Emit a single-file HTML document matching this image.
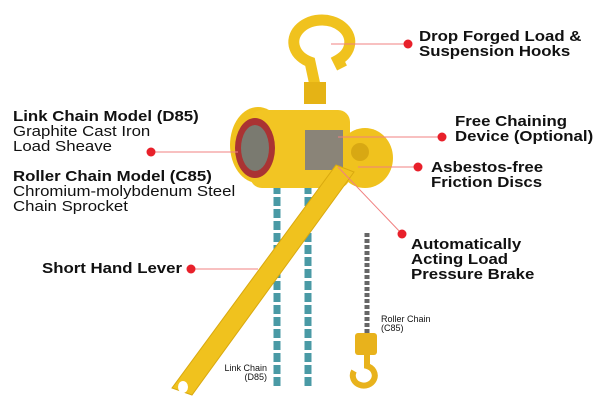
<!DOCTYPE html>
<html><head><meta charset="utf-8"><style>
body{margin:0;width:600px;height:417px;background:#fff;overflow:hidden;position:relative;font-family:"Liberation Sans",sans-serif}
.t{position:absolute;font-size:15px;line-height:15px;color:#111;transform:scaleX(1.12);transform-origin:0 0;white-space:nowrap}
.b{font-weight:bold}
.s{position:absolute;font-size:9px;line-height:9px;color:#111;white-space:nowrap}
svg{position:absolute;left:0;top:0}
</style></head><body>
<svg width="600" height="417">
<g stroke="#4a9aa5" stroke-width="7" fill="none" stroke-dasharray="9 3">
<line x1="277" y1="185" x2="277" y2="387"/>
<line x1="308" y1="185" x2="308" y2="387"/>
</g>
<line x1="367" y1="233" x2="367" y2="334" stroke="#666" stroke-width="5" stroke-dasharray="4 2"/>
<rect x="355" y="333" width="22" height="22" fill="#e8b21c" rx="3"/>
<path d="M367 354 v12 a11 10 0 1 1 -13 5" stroke="#e8b21c" stroke-width="6" fill="none"/>
<!-- top hook -->
<path d="M316 90 L310 62 A28 22 0 1 1 338 60 L342 68" stroke="#f0c21e" stroke-width="11" fill="none"/>
<rect x="304" y="82" width="22" height="22" fill="#e5b315"/>
<!-- body -->
<ellipse cx="258" cy="145" rx="28" ry="38" fill="#f0c21e"/>
<rect x="250" y="110" width="100" height="78" rx="12" fill="#f2c523"/>
<ellipse cx="365" cy="158" rx="28" ry="30" fill="#f0c21e"/>
<ellipse cx="255" cy="148" rx="20" ry="30" fill="#a33"/>
<ellipse cx="255" cy="148" rx="14" ry="23" fill="#7a7a70"/>
<rect x="305" y="130" width="38" height="40" fill="#8a8478"/>
<circle cx="360" cy="152" r="9" fill="#d8a813"/>
<!-- lever -->
<polygon points="336,165 354,172 192,395 172,388" fill="#f0c21e" stroke="#d9a90f"/>
<ellipse cx="183" cy="387" rx="5" ry="6" fill="#fff"/>
<g stroke="#f08080" stroke-width="1">
<line x1="331" y1="44" x2="408" y2="44"/>
<line x1="151" y1="152" x2="238" y2="152"/>
<line x1="338" y1="137" x2="442" y2="137"/>
<line x1="358" y1="167" x2="418" y2="167"/>
<line x1="338" y1="167" x2="402" y2="234"/>
<line x1="191" y1="269" x2="258" y2="269"/>
</g>
<g fill="#e8202a">
<circle cx="408" cy="44" r="4.5"/><circle cx="151" cy="152" r="4.5"/>
<circle cx="442" cy="137" r="4.5"/><circle cx="418" cy="167" r="4.5"/>
<circle cx="402" cy="234" r="4.5"/><circle cx="191" cy="269" r="4.5"/>
</g>
</svg>
<div class="t b" style="left:419px;top:29px">Drop Forged Load &amp;<br>Suspension Hooks</div>
<div class="t" style="left:13px;top:109px"><b>Link Chain Model (D85)</b><br>Graphite Cast Iron<br>Load Sheave</div>
<div class="t" style="left:13px;top:169px"><b>Roller Chain Model (C85)</b><br>Chromium-molybdenum Steel<br>Chain Sprocket</div>
<div class="t b" style="left:455px;top:114px">Free Chaining<br>Device (Optional)</div>
<div class="t b" style="left:431px;top:160px">Asbestos-free<br>Friction Discs</div>
<div class="t b" style="left:411px;top:237px">Automatically<br>Acting Load<br>Pressure Brake</div>
<div class="t b" style="left:42px;top:261px">Short Hand Lever</div>
<div class="s" style="left:381px;top:315px">Roller Chain<br>(C85)</div>
<div class="s" style="left:200px;top:364px;text-align:right;width:67px">Link Chain<br>(D85)</div>
</body></html>
